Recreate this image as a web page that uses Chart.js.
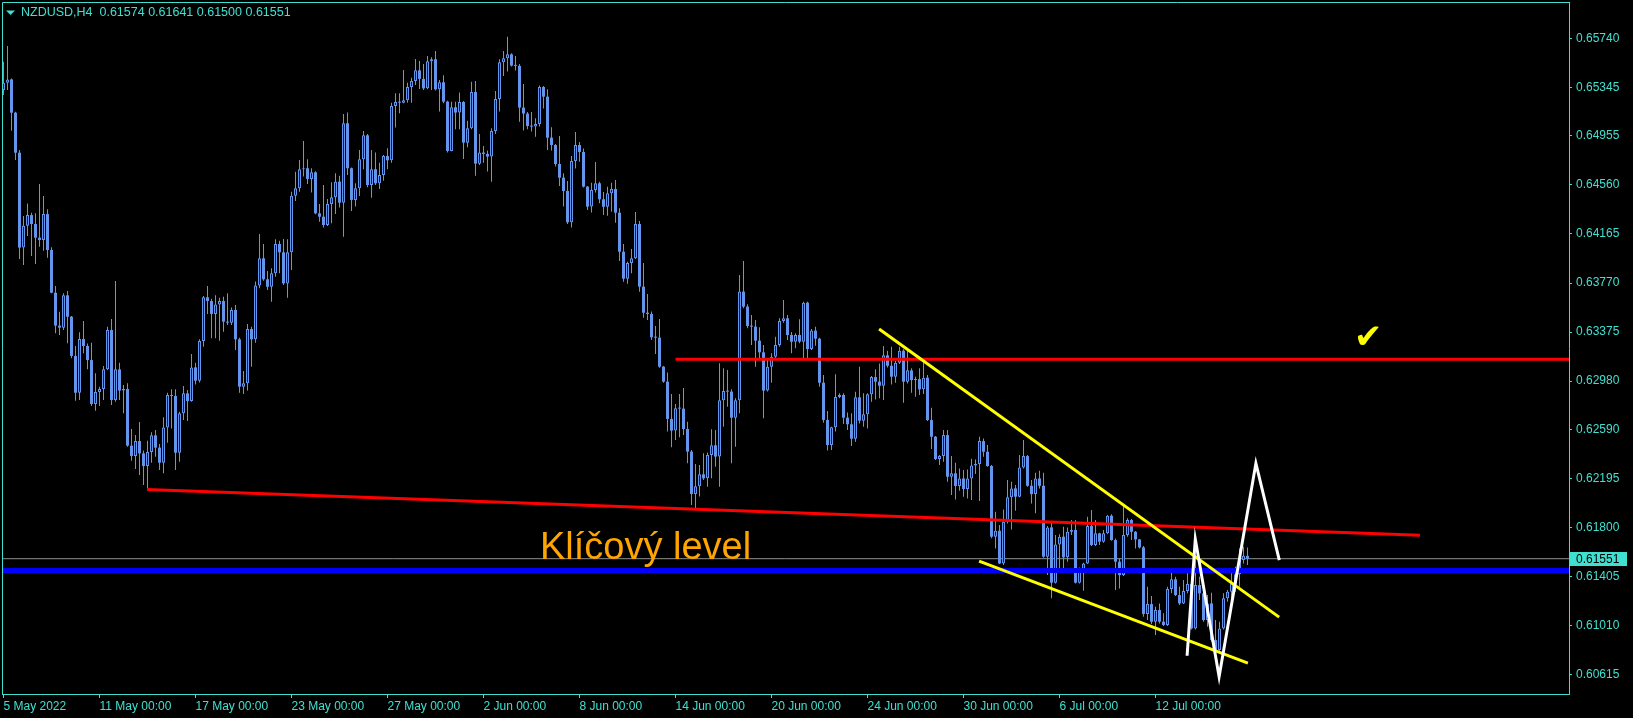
<!DOCTYPE html>
<html>
<head>
<meta charset="utf-8">
<title>NZDUSD,H4</title>
<script src="https://cdn.jsdelivr.net/npm/chart.js@4.4.1/dist/chart.umd.min.js"></script>
<style>
  html, body { margin: 0; padding: 0; background: #000; }
  canvas { display: block; }
</style>
</head>
<body>
<canvas id="myChart" width="1633" height="718"></canvas>
<script>
const symbol = 'NZDUSD';
const timeframe = 'H4';

// H4 candles, 5 May 2022 00:00 -> 15 Jul 2022 20:00 (312 bars)
const opens = [
0.65324,0.65383,0.65409,0.65141,0.64819,0.64055,0.64232,0.64317,0.64245,0.64135,0.64116,0.64325,
0.64036,0.63692,0.63427,0.63411,0.63671,0.63499,0.63183,0.62887,0.63319,0.63263,0.63150,0.62796,
0.62893,0.62917,0.63075,0.63392,0.62828,0.63075,0.62904,0.62917,0.62461,0.62378,0.62498,0.62399,
0.62297,0.62410,0.62544,0.62445,0.62324,0.62608,0.62869,0.62861,0.62404,0.62721,0.62882,0.62820,
0.63091,0.62984,0.63303,0.63655,0.63625,0.63521,0.63598,0.63625,0.63459,0.63451,0.63553,0.63317,
0.62936,0.62963,0.63400,0.63317,0.63751,0.63969,0.63800,0.63740,0.63848,0.64084,0.64017,0.63767,
0.64017,0.64473,0.64532,0.64685,0.64694,0.64608,0.64661,0.64331,0.64304,0.64237,0.64406,0.64460,
0.64586,0.64417,0.65056,0.64694,0.64439,0.64533,0.64766,0.64959,0.64559,0.64686,0.64573,0.64640,
0.64793,0.64758,0.65195,0.65227,0.65222,0.65241,0.65348,0.65396,0.65482,0.65413,0.65337,0.65555,
0.65571,0.65329,0.65386,0.65230,0.64833,0.65185,0.65142,0.65227,0.64900,0.65016,0.65308,0.64731,
0.64820,0.64809,0.64788,0.64994,0.65252,0.65547,0.65579,0.65611,0.65520,0.65518,0.65182,0.65134,
0.65034,0.65029,0.65050,0.65348,0.65270,0.64940,0.64881,0.64728,0.64618,0.64511,0.64259,0.64753,
0.64881,0.64825,0.64546,0.64385,0.64519,0.64573,0.64444,0.64384,0.64492,0.64527,0.64336,0.64022,
0.63805,0.63931,0.63969,0.64245,0.63741,0.63531,0.63521,0.63333,0.63330,0.63097,0.62976,0.62676,
0.62582,0.62762,0.62759,0.62595,0.62413,0.62072,0.62134,0.62230,0.62198,0.62386,0.62464,0.62373,
0.62826,0.62901,0.62896,0.62686,0.62826,0.63701,0.63580,0.63424,0.63419,0.63306,0.63212,0.62904,
0.63097,0.63177,0.63271,0.63464,0.63486,0.63352,0.63298,0.63352,0.63298,0.63612,0.63239,0.63387,
0.63322,0.62968,0.62668,0.62466,0.62609,0.62853,0.62869,0.62686,0.62633,0.62517,0.62850,0.62662,
0.62713,0.62874,0.63013,0.62976,0.62943,0.63188,0.63104,0.63016,0.63129,0.63225,0.62976,0.63067,
0.62989,0.62997,0.62914,0.63008,0.62667,0.62533,0.62353,0.62377,0.62546,0.62211,0.62238,0.62136,
0.62197,0.62112,0.62197,0.62302,0.62313,0.62498,0.62412,0.62297,0.61728,0.61776,0.61513,0.61849,
0.62045,0.62117,0.62050,0.62286,0.62377,0.62138,0.62071,0.62197,0.62138,0.61567,0.61803,0.61358,
0.61666,0.61728,0.61562,0.61768,0.61782,0.61358,0.61465,0.61513,0.61814,0.61661,0.61755,0.61688,
0.61755,0.61897,0.61701,0.61527,0.61419,0.61741,0.61862,0.61768,0.61706,0.61642,0.61106,0.61186,
0.61044,0.61138,0.61044,0.61017,0.61307,0.61385,0.61258,0.61191,0.61291,0.61347,0.60990,0.61339,
0.61272,0.61057,0.61191,0.60896,0.60816,0.60990,0.61232,0.61285,0.61352,0.61425,0.61540,0.61574
];
const highs = [
0.65552,0.65678,0.65417,0.65149,0.64841,0.64309,0.64411,0.64336,0.64331,0.64567,0.64470,0.64363,
0.64057,0.63746,0.63539,0.63687,0.63706,0.63505,0.63263,0.63373,0.63464,0.63284,0.63290,0.63043,
0.62936,0.63102,0.63419,0.63480,0.63786,0.63129,0.62949,0.62963,0.62595,0.62547,0.62651,0.62421,
0.62501,0.62568,0.62587,0.62474,0.62689,0.62887,0.62914,0.62914,0.62734,0.62941,0.62909,0.63199,
0.63129,0.63317,0.63665,0.63746,0.63644,0.63671,0.63652,0.63660,0.63687,0.63572,0.63593,0.63330,
0.63062,0.63440,0.63419,0.63783,0.64164,0.64084,0.63867,0.63888,0.64122,0.64111,0.64124,0.64122,
0.64505,0.64666,0.64760,0.64914,0.64766,0.64694,0.64670,0.64406,0.64559,0.64447,0.64581,0.64653,
0.64634,0.65131,0.65142,0.64700,0.64573,0.64841,0.64994,0.64970,0.64841,0.64820,0.64739,0.64801,
0.64855,0.65222,0.65297,0.65297,0.65485,0.65383,0.65423,0.65574,0.65557,0.65533,0.65598,0.65587,
0.65638,0.65405,0.65442,0.65238,0.65230,0.65230,0.65303,0.65235,0.65077,0.65391,0.65396,0.64970,
0.64873,0.64836,0.65016,0.65316,0.65571,0.65638,0.65753,0.65619,0.65598,0.65533,0.65372,0.65147,
0.65147,0.65096,0.65359,0.65356,0.65329,0.65024,0.64889,0.64954,0.64653,0.64592,0.64793,0.64986,
0.64906,0.64852,0.64550,0.64578,0.64745,0.64586,0.64502,0.64545,0.64578,0.64599,0.64371,0.64084,
0.63942,0.64044,0.64342,0.64269,0.63931,0.63682,0.63540,0.63424,0.63481,0.63102,0.63049,0.62877,
0.62796,0.62877,0.62925,0.62654,0.62426,0.62313,0.62305,0.62399,0.62405,0.62593,0.62587,0.63124,
0.63084,0.63070,0.62915,0.62842,0.63835,0.63947,0.63600,0.63513,0.63473,0.63414,0.63271,0.63164,
0.63204,0.63338,0.63486,0.63634,0.63513,0.63376,0.63365,0.63478,0.63620,0.63620,0.63400,0.63419,
0.63330,0.63030,0.62740,0.62614,0.63035,0.62882,0.62882,0.62727,0.62721,0.62895,0.63096,0.62882,
0.62882,0.63021,0.63075,0.63123,0.63263,0.63225,0.63257,0.63142,0.63257,0.63236,0.63231,0.63083,
0.63016,0.63083,0.63129,0.63029,0.62766,0.62538,0.62385,0.62587,0.62587,0.62377,0.62324,0.62278,
0.62265,0.62270,0.62356,0.62350,0.62533,0.62519,0.62466,0.62305,0.61929,0.61822,0.61948,0.62184,
0.62171,0.62144,0.62385,0.62506,0.62385,0.62184,0.62243,0.62259,0.62243,0.61814,0.61849,0.61741,
0.61747,0.61808,0.61803,0.61862,0.61862,0.61481,0.61519,0.61889,0.61943,0.61862,0.61760,0.61782,
0.61902,0.61908,0.61714,0.61554,0.61975,0.61876,0.61870,0.61775,0.61710,0.61653,0.61326,0.61250,
0.61164,0.61191,0.61111,0.61326,0.61446,0.61406,0.61326,0.61379,0.61433,0.61406,0.61572,0.61406,
0.61326,0.61258,0.61277,0.61057,0.61044,0.61272,0.61299,0.61433,0.61486,0.61634,0.61647,0.61641
];
const lows = [
0.65283,0.65324,0.64996,0.64760,0.63963,0.63915,0.64148,0.63987,0.63923,0.64062,0.64030,0.63974,
0.63687,0.63365,0.63352,0.63392,0.63285,0.63164,0.62823,0.62828,0.63204,0.63075,0.62780,0.62742,
0.62780,0.62828,0.63070,0.62788,0.62815,0.62828,0.62721,0.62453,0.62340,0.62273,0.62225,0.62144,
0.62117,0.62324,0.62372,0.62265,0.62238,0.62485,0.62600,0.62265,0.62332,0.62667,0.62659,0.62815,
0.62954,0.62970,0.63258,0.63521,0.63325,0.63325,0.63306,0.63378,0.63432,0.63432,0.63231,0.62887,
0.62877,0.62904,0.63097,0.63290,0.63727,0.63789,0.63714,0.63620,0.63821,0.63848,0.63754,0.63652,
0.63875,0.64430,0.64505,0.64627,0.64567,0.64498,0.64323,0.64264,0.64216,0.64229,0.64251,0.64326,
0.64377,0.64143,0.64640,0.64350,0.64385,0.64471,0.64686,0.64541,0.64457,0.64559,0.64527,0.64594,
0.64686,0.64739,0.65021,0.65136,0.65217,0.65222,0.65222,0.65364,0.65332,0.65324,0.65330,0.65324,
0.65319,0.65150,0.65217,0.64820,0.64830,0.65007,0.65007,0.64769,0.64863,0.65007,0.64634,0.64720,
0.64739,0.64667,0.64586,0.64970,0.65150,0.65437,0.65472,0.65512,0.65480,0.65069,0.64997,0.65007,
0.64989,0.64948,0.65029,0.65174,0.64841,0.64836,0.64707,0.64551,0.64385,0.64245,0.64216,0.64691,
0.64747,0.64538,0.64358,0.64337,0.64498,0.64412,0.64317,0.64312,0.64344,0.64256,0.63947,0.63781,
0.63765,0.63848,0.63963,0.63700,0.63491,0.63472,0.63312,0.63199,0.63089,0.62968,0.62574,0.62448,
0.62507,0.62528,0.62547,0.62319,0.61983,0.61957,0.62051,0.62185,0.62131,0.62198,0.62292,0.62131,
0.62614,0.62775,0.62319,0.62453,0.62721,0.63566,0.63405,0.63271,0.63097,0.63151,0.62681,0.62896,
0.62968,0.63151,0.63258,0.63451,0.63312,0.63204,0.63245,0.63285,0.63151,0.63164,0.63231,0.63266,
0.62936,0.62646,0.62421,0.62426,0.62574,0.62842,0.62635,0.62587,0.62458,0.62493,0.62640,0.62613,
0.62600,0.62815,0.62833,0.62842,0.62828,0.63091,0.62954,0.62968,0.63118,0.62807,0.62962,0.62887,
0.62855,0.62868,0.62876,0.62659,0.62434,0.62345,0.62305,0.62332,0.62171,0.62063,0.62028,0.62098,
0.62050,0.62036,0.62023,0.62232,0.62015,0.62372,0.62291,0.61715,0.61634,0.61508,0.61500,0.61835,
0.61787,0.61937,0.62045,0.62278,0.62130,0.61996,0.61916,0.62117,0.61559,0.61419,0.61232,0.61352,
0.61473,0.61460,0.61527,0.61741,0.61352,0.61352,0.61293,0.61508,0.61653,0.61653,0.61661,0.61680,
0.61749,0.61696,0.61299,0.61312,0.61411,0.61728,0.61701,0.61634,0.61634,0.61084,0.61057,0.61025,
0.60936,0.61030,0.61009,0.61009,0.61272,0.61250,0.61178,0.61186,0.61272,0.60982,0.60982,0.61218,
0.61044,0.61004,0.60883,0.60789,0.60789,0.60982,0.61205,0.61205,0.61285,0.61326,0.61513,0.61500
];
const closes = [
0.65383,0.65409,0.65141,0.64819,0.64055,0.64232,0.64317,0.64245,0.64135,0.64116,0.64325,0.64036,
0.63692,0.63427,0.63411,0.63671,0.63499,0.63183,0.62887,0.63319,0.63263,0.63150,0.62796,0.62893,
0.62917,0.63075,0.63392,0.62828,0.63075,0.62904,0.62917,0.62461,0.62378,0.62498,0.62399,0.62297,
0.62410,0.62544,0.62445,0.62324,0.62608,0.62869,0.62861,0.62404,0.62721,0.62882,0.62820,0.63091,
0.62984,0.63303,0.63655,0.63625,0.63521,0.63598,0.63625,0.63459,0.63451,0.63553,0.63317,0.62936,
0.62963,0.63400,0.63317,0.63751,0.63969,0.63800,0.63740,0.63848,0.64084,0.64017,0.63767,0.64017,
0.64473,0.64532,0.64685,0.64694,0.64608,0.64661,0.64331,0.64304,0.64237,0.64406,0.64460,0.64586,
0.64417,0.65056,0.64694,0.64439,0.64533,0.64766,0.64959,0.64559,0.64686,0.64573,0.64640,0.64793,
0.64758,0.65195,0.65227,0.65222,0.65241,0.65348,0.65396,0.65482,0.65413,0.65337,0.65555,0.65571,
0.65329,0.65386,0.65230,0.64833,0.65185,0.65142,0.65227,0.64900,0.65016,0.65308,0.64731,0.64820,
0.64809,0.64788,0.64994,0.65252,0.65547,0.65579,0.65611,0.65520,0.65518,0.65182,0.65134,0.65034,
0.65029,0.65050,0.65348,0.65270,0.64940,0.64881,0.64728,0.64618,0.64511,0.64259,0.64753,0.64881,
0.64825,0.64546,0.64385,0.64519,0.64573,0.64444,0.64384,0.64492,0.64527,0.64336,0.64022,0.63805,
0.63931,0.63969,0.64245,0.63741,0.63531,0.63521,0.63333,0.63330,0.63097,0.62976,0.62676,0.62582,
0.62762,0.62759,0.62595,0.62413,0.62072,0.62134,0.62230,0.62198,0.62386,0.62464,0.62373,0.62826,
0.62901,0.62896,0.62686,0.62826,0.63701,0.63580,0.63424,0.63419,0.63306,0.63212,0.62904,0.63097,
0.63177,0.63271,0.63464,0.63486,0.63352,0.63298,0.63352,0.63298,0.63612,0.63239,0.63387,0.63322,
0.62968,0.62668,0.62466,0.62609,0.62853,0.62869,0.62686,0.62633,0.62517,0.62850,0.62662,0.62713,
0.62874,0.63013,0.62976,0.62943,0.63188,0.63104,0.63016,0.63129,0.63225,0.62976,0.63067,0.62989,
0.62997,0.62914,0.63008,0.62667,0.62533,0.62353,0.62377,0.62546,0.62211,0.62238,0.62136,0.62197,
0.62112,0.62197,0.62302,0.62313,0.62498,0.62412,0.62297,0.61728,0.61776,0.61513,0.61849,0.62045,
0.62117,0.62050,0.62286,0.62377,0.62138,0.62071,0.62197,0.62138,0.61567,0.61803,0.61358,0.61666,
0.61728,0.61562,0.61768,0.61782,0.61358,0.61465,0.61513,0.61814,0.61661,0.61755,0.61688,0.61755,
0.61897,0.61701,0.61527,0.61419,0.61741,0.61862,0.61768,0.61706,0.61642,0.61106,0.61186,0.61044,
0.61138,0.61044,0.61017,0.61307,0.61385,0.61258,0.61191,0.61291,0.61347,0.60990,0.61339,0.61272,
0.61057,0.61191,0.60896,0.60816,0.60990,0.61232,0.61285,0.61352,0.61425,0.61540,0.61574,0.61551
];

// time axis (bar index -> label)
const xTickIndex = [0, 24, 48, 72, 96, 120, 144, 168, 192, 216, 240, 264, 288];
const xTickLabels = ['5 May 2022', '11 May 00:00', '17 May 00:00', '23 May 00:00', '27 May 00:00',
  '2 Jun 00:00', '8 Jun 00:00', '14 Jun 00:00', '20 Jun 00:00', '24 Jun 00:00',
  '30 Jun 00:00', '6 Jul 00:00', '12 Jul 00:00'];
// price axis
const yTickValues = [0.65740, 0.65345, 0.64955, 0.64560, 0.64165, 0.63770, 0.63375,
  0.62980, 0.62590, 0.62195, 0.61800, 0.61405, 0.61010, 0.60615];

// hand drawn objects, [bar index, price]
const resistance = [[168, 0.63156], [391.4, 0.63156]];
const trendLine = [[35.9, 0.62109], [354.1, 0.61739]];
const keyLevel = [[-0.4, 0.61457], [391.4, 0.61457]];
const wedgeUpper = [[218.9, 0.63400], [318.9, 0.61081]];
const wedgeLower = [[243.9, 0.61532], [311.1, 0.60711]];
const zigzag = [[295.9, 0.60770], [297.95, 0.61709], [303.9, 0.60601], [313.1, 0.62319], [318.95, 0.61540]];
const keyLabel = 'Klíčový level';
const keyLabelAt = [134.1, 0.61548];
const checkAt = [341.2, 0.63320];

const TEAL = '#40e0d0';
const CANDLE = '#6495ed';
const FONT = '"Liberation Sans", Arial, sans-serif';

const last = closes.length - 1;

let wicks = [];
let bullBodies = [];
let bearBodies = [];
for (let i = 0; i < closes.length; i++) {
    wicks.push({x: i, y: [lows[i], highs[i]]});
    if (closes[i] > opens[i]) {
        bullBodies.push({x: i, y: [opens[i], closes[i]]});
    } else {
        bearBodies.push({x: i, y: [closes[i], opens[i]]});
    }
}

function pts(arr) {
    return arr.map(p => ({x: p[0], y: p[1]}));
}

function lineSet(arr, color, width, order) {
    return {
        type: 'line',
        data: pts(arr),
        borderColor: color,
        borderWidth: width,
        pointRadius: 0,
        tension: 0,
        fill: false,
        order: order
    };
}

const bidLine = [[-0.4, closes[last]], [391.4, closes[last]]];

// frame, title, price box and the text labels
const decoPlugin = {
    id: 'deco',
    afterDatasetsDraw(chart) {
        const ctx = chart.ctx;
        const xs = chart.scales.x;
        const ys = chart.scales.y;
        ctx.save();
        ctx.fillStyle = '#ffa500';
        ctx.font = '38px ' + FONT;
        ctx.textAlign = 'left';
        ctx.textBaseline = 'alphabetic';
        ctx.fillText(keyLabel, xs.getPixelForValue(keyLabelAt[0]), ys.getPixelForValue(keyLabelAt[1]));

        ctx.fillStyle = '#ffff00';
        ctx.font = '34px "DejaVu Sans"';
        ctx.textAlign = 'center';
        ctx.textBaseline = 'middle';
        ctx.fillText('\u2714', xs.getPixelForValue(checkAt[0]), ys.getPixelForValue(checkAt[1]));
        ctx.restore();
    },
    afterDraw(chart) {
        const ctx = chart.ctx;
        const a = chart.chartArea;
        const ys = chart.scales.y;
        ctx.save();
        ctx.strokeStyle = TEAL;
        ctx.lineWidth = 1;
        ctx.beginPath();
        ctx.moveTo(a.left + 0.5, a.bottom);
        ctx.lineTo(a.left + 0.5, a.top + 0.5);
        ctx.lineTo(a.right, a.top + 0.5);
        ctx.stroke();

        // title
        ctx.fillStyle = TEAL;
        ctx.beginPath();
        ctx.moveTo(6, 10.5);
        ctx.lineTo(15, 10.5);
        ctx.lineTo(10.5, 15);
        ctx.closePath();
        ctx.fill();
        ctx.font = '12.5px ' + FONT;
        ctx.textBaseline = 'middle';
        ctx.textAlign = 'left';
        const title = symbol + ',' + timeframe + '  ' + opens[last].toFixed(5) + ' ' + highs[last].toFixed(5) +
            ' ' + lows[last].toFixed(5) + ' ' + closes[last].toFixed(5);
        ctx.fillText(title, 21, 13);

        // current price box
        const py = ys.getPixelForValue(closes[last]);
        ctx.fillStyle = TEAL;
        ctx.fillRect(a.right + 1, Math.round(py) - 7, 57, 14);
        ctx.fillStyle = '#000';
        ctx.font = '12px ' + FONT;
        ctx.fillText(closes[last].toFixed(5), a.right + 7, py + 0.5);
        ctx.restore();
    }
};

const ctx = document.getElementById('myChart').getContext('2d');
const myChart = new Chart(ctx, {
    type: 'bar',
    data: {
        datasets: [
            lineSet(zigzag, '#ffffff', 3, 0),
            lineSet(wedgeUpper, '#ffff00', 3, 0),
            lineSet(wedgeLower, '#ffff00', 3, 0),
            lineSet(resistance, '#ff0000', 3, 0),
            lineSet(trendLine, '#ff0000', 3, 0),
            lineSet(keyLevel, '#0000ff', 5, 0),
            {
                label: 'bull',
                data: bullBodies,
                backgroundColor: '#0000ff',
                borderColor: CANDLE,
                borderWidth: 1,
                borderSkipped: false,
                barThickness: 3,
                minBarLength: 1,
                inflateAmount: 0,
                grouped: false,
                order: 2
            },
            {
                label: 'bear',
                data: bearBodies,
                backgroundColor: CANDLE,
                borderWidth: 0,
                barThickness: 3,
                minBarLength: 1,
                inflateAmount: 0,
                grouped: false,
                order: 2
            },
            {
                label: 'wick',
                data: wicks,
                backgroundColor: CANDLE,
                borderWidth: 0,
                barThickness: 1,
                inflateAmount: 0,
                grouped: false,
                order: 3
            },
            lineSet(bidLine, '#909090', 1, 4)
        ]
    },
    options: {
        responsive: false,
        animation: false,
        devicePixelRatio: 1,
        events: [],
        layout: { padding: { top: 2, left: 2, right: 0, bottom: 0 } },
        plugins: {
            legend: { display: false },
            tooltip: { enabled: false }
        },
        scales: {
            x: {
                type: 'linear',
                min: -0.375,
                max: 391.375,
                offset: false,
                afterBuildTicks: s => { s.ticks = xTickIndex.map(v => ({value: v})); },
                afterFit: s => { s.height = 24; s.paddingLeft = 0; s.paddingRight = 0; },
                grid: { drawOnChartArea: false, drawTicks: true, tickLength: 4, color: TEAL, offset: false },
                border: { display: true, color: TEAL },
                ticks: {
                    color: TEAL,
                    font: { family: FONT, size: 12 },
                    align: 'start',
                    autoSkip: false,
                    maxRotation: 0,
                    padding: 1,
                    callback: (v, i) => xTickLabels[i]
                }
            },
            y: {
                position: 'right',
                min: 0.60462,
                max: 0.66032,
                afterBuildTicks: s => { s.ticks = yTickValues.map(v => ({value: v})); },
                afterFit: s => { s.width = 64; s.paddingTop = 0; s.paddingBottom = 0; },
                grid: { drawOnChartArea: false, drawTicks: true, tickLength: 3, color: TEAL },
                border: { display: true, color: TEAL },
                ticks: {
                    color: TEAL,
                    font: { family: FONT, size: 12 },
                    padding: 4,
                    autoSkip: false,
                    callback: v => v.toFixed(5)
                }
            }
        }
    },
    plugins: [decoPlugin]
});
</script>
</body>
</html>
